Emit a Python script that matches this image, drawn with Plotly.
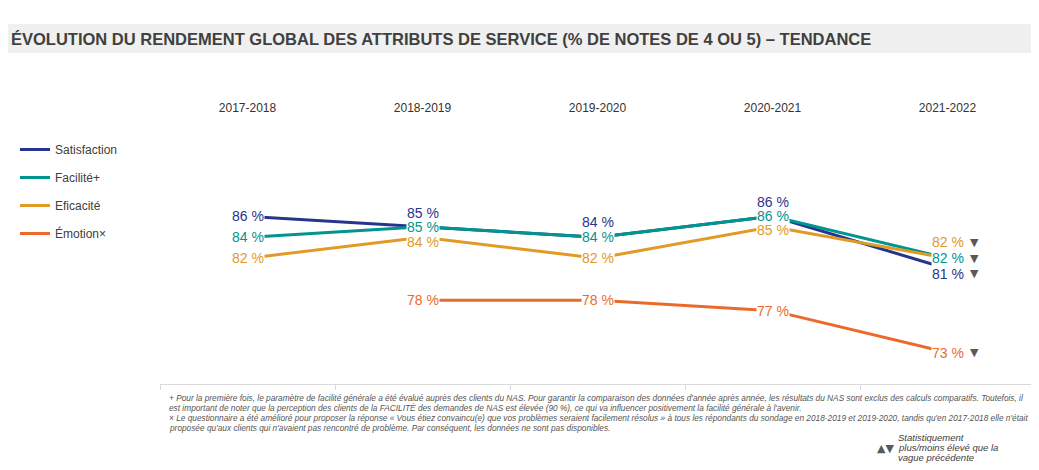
import plotly.graph_objects as go

years = ["2017-2018", "2018-2019", "2019-2020", "2020-2021", "2021-2022"]
series_names = ["Satisfaction", "Facilité+", "Eficacité", "Émotion×"]
satisfaction = [86, 85, 84, 86, 81]
facilite = [84, 85, 84, 86, 82]
efficacite = [82, 84, 82, 85, 82]
emotion = [None, 78, 78, 77, 73]
series_values = [satisfaction, facilite, efficacite, emotion]
colors = ["#27348b", "#00958f", "#e09a25", "#eb6a2b"]
# pixel offsets of the value labels (to avoid overlap), per series per year
label_shift = [
    [0, 14, 15, 14, -5],
    [0, 0, 0, 0, 0],
    [0, -5, 0, -3, 16],
    [0, 0, 0, 0, 0],
]
# significance flag on last wave: -1 = lower than previous wave
significance = [-1, -1, -1, -1]

title = "ÉVOLUTION DU RENDEMENT GLOBAL DES ATTRIBUTS DE SERVICE (% DE NOTES DE 4 OU 5) – TENDANCE"
footnote_lines = [
    "+ Pour la première fois, le paramètre de facilité générale a été évalué auprès des clients du NAS. Pour garantir la comparaison des données d'année après année, les résultats du NAS sont exclus des calculs comparatifs. Toutefois, il",
    "est important de noter que la perception des clients de la FACILITÉ des demandes de NAS est élevée (90 %), ce qui va influencer positivement la facilité générale à l'avenir.",
    "× Le questionnaire a été amélioré pour proposer la réponse « Vous étiez convaincu(e) que vos problèmes seraient facilement résolus » à tous les répondants du sondage en 2018-2019 et 2019-2020, tandis qu'en 2017-2018 elle n'était",
    "proposée qu'aux clients qui n'avaient pas rencontré de problème. Par conséquent, les données ne sont pas disponibles.",
]
sig_legend_lines = ["Statistiquement", "plus/moins élevé que la", "vague précédente"]

OFF = 8  # page body margin
W, H = 1039 - OFF, 470 - OFF
ML, MT = 160 - OFF, 122 - OFF
MR = W - (1035 - OFF)
MB = H - (384 - OFF)
PW, PH = W - ML - MR, H - MT - MB


def px_x(px):
    return (px - OFF - ML) / PW


def px_y(py):
    return (H - MB - (py - OFF)) / PH


BASE_FONT = "Arial, 'Liberation Sans', sans-serif"

fig = go.Figure()
for i, (name, vals) in enumerate(zip(series_names, series_values)):
    fig.add_trace(go.Scatter(
        x=years, y=vals, name=name, mode="lines",
        line=dict(color=colors[i], width=3),
        legendgroup=name, connectgaps=False, hoverinfo="skip",
    ))

# dummy trace for the bottom axis
fig.add_trace(go.Scatter(x=years, y=[None] * len(years), xaxis="x2", showlegend=False,
                         hoverinfo="skip", mode="lines"))

on_point, shifted = [], []
for i, vals in enumerate(series_values):
    for j, v in enumerate(vals):
        if v is None:
            continue
        s = label_shift[i][j]
        ann = dict(
            x=years[j], y=v, xref="x", yref="y", text=f"{v} %", showarrow=False,
            font=dict(family=BASE_FONT, size=14, color=colors[i]),
            borderpad=0, yshift=s,
        )
        if abs(s) <= 5:
            ann["bgcolor"] = "white"
            on_point.append((v, s, ann))
        else:
            shifted.append(ann)
    if significance[i] != 0:
        shifted.append(dict(
            x=years[-1], y=vals[-1], xref="x", yref="y",
            text="▼" if significance[i] < 0 else "▲", showarrow=False,
            font=dict(family="DejaVu Sans", size=11, color="#595959"),
            xshift=27, yshift=label_shift[i][-1],
        ))

# draw lower labels first so upper ones keep their glyphs visible
on_point.sort(key=lambda t: t[0] * 10.5 + t[1])
annotations = [a for _, _, a in on_point] + shifted

annotations.append(dict(
    x=px_x(9), y=px_y(38.5), xref="paper", yref="paper", xanchor="left", yanchor="middle",
    text=f"<b>{title}</b>", showarrow=False,
    font=dict(family="'Liberation Sans Narrow', 'Arial Narrow', Arial, sans-serif", size=16.5, color="#404040"),
))
for k, (line, yy) in enumerate(zip(footnote_lines, [398, 408, 418, 428])):
    annotations.append(dict(
        x=px_x(167), y=px_y(yy), xref="paper", yref="paper", xanchor="left", yanchor="middle",
        text=line, showarrow=False, align="left",
        font=dict(family=BASE_FONT, size=8.3, color="#555555", style="italic"),
    ))
annotations.append(dict(
    x=px_x(875), y=px_y(448), xref="paper", yref="paper", xanchor="left", yanchor="middle",
    text="▲▼", showarrow=False,
    font=dict(family="DejaVu Sans", size=11, color="#595959"),
))
for line, yy in zip(sig_legend_lines, [437, 447, 457]):
    annotations.append(dict(
        x=px_x(896), y=px_y(yy), xref="paper", yref="paper", xanchor="left", yanchor="middle",
        text=line, showarrow=False, align="left",
        font=dict(family=BASE_FONT, size=9.5, color="#404040", style="italic"),
    ))

fig.update_layout(
    width=W, height=H,
    margin=dict(l=ML, r=MR, t=MT, b=MB),
    paper_bgcolor="white", plot_bgcolor="white",
    font=dict(family=BASE_FONT, size=12, color="#333333"),
    xaxis=dict(type="category", categoryorder="array", categoryarray=years, side="top",
               range=[-0.5, 4.5], showline=False, showgrid=False, zeroline=False, ticks="",
               ticklabelstandoff=7,
               tickfont=dict(size=12, color="#333333"), fixedrange=True),
    xaxis2=dict(type="category", categoryorder="array", categoryarray=years, overlaying="x",
                side="bottom", anchor="y", range=[-0.5, 4.5], showline=True, linecolor="#d9d9d9",
                linewidth=1, ticks="outside", tickson="boundaries", ticklen=5, tickcolor="#d9d9d9",
                showticklabels=False, showgrid=False, zeroline=False),
    yaxis=dict(range=[70, 95], visible=False, showgrid=False, zeroline=False),
    legend=dict(x=px_x(15), xanchor="left", y=px_y(135), yanchor="top",
                bgcolor="rgba(0,0,0,0)", font=dict(size=12, color="#404040"),
                traceorder="grouped", tracegroupgap=9),
    shapes=[dict(type="rect", xref="paper", yref="paper",
                 x0=px_x(2), x1=px_x(1035), y0=px_y(53), y1=px_y(24),
                 fillcolor="#f0f0f0", line=dict(width=0), layer="below")],
    annotations=annotations,
    showlegend=True,
)

fig.write_html("out.html")
